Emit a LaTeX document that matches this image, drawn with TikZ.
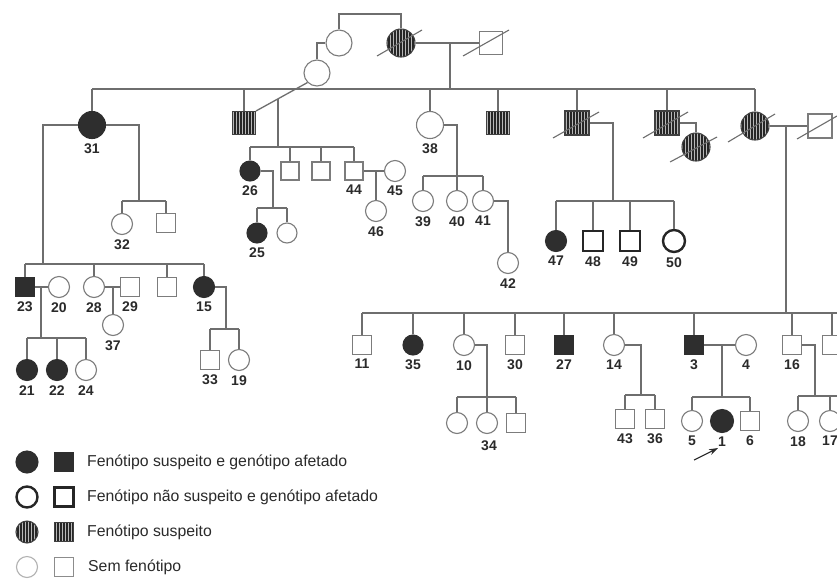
\documentclass[tikz,border=0pt]{standalone}
\usepackage{fontspec}
\setmainfont{Liberation Sans}
\usetikzlibrary{calc,arrows.meta}
\definecolor{lc}{HTML}{6E6E6E}
\definecolor{sc}{HTML}{7C7C7C}
\definecolor{fc}{HTML}{2E2E2E}
\definecolor{tc}{HTML}{2A2A2A}
\definecolor{sbg}{HTML}{B8B8B8}
\tikzset{
  ln/.style={draw=lc,line width=1.3pt},
  fem/.style={circle,draw=sc,line width=1.1pt,fill=white,inner sep=0pt,minimum size=#1},
  mal/.style={rectangle,draw=sc,line width=1.1pt,fill=white,inner sep=0pt,minimum size=#1},
  aff/.style={fill=fc,draw=fc},
  strp/.style={draw=black!75,fill=sbg,path picture={
      \foreach \k in {-15,-12,...,15}{
        \draw[line width=1.4pt,draw=black!85] ([xshift=\k pt]path picture bounding box.north) -- ([xshift=\k pt]path picture bounding box.south);}}},
  thk/.style={draw=black!85,line width=2.4pt},
  lbl/.style={font=\bfseries\fontsize{14}{14}\selectfont,text=tc,inner sep=0pt},
  leg/.style={font=\fontsize{15.8}{18}\selectfont,text=tc,inner sep=0pt,anchor=west},
  dec/.style={draw=lc,line width=1.1pt},
}
\begin{document}
\begin{tikzpicture}[x=1pt,y=-1pt,label distance=4pt]
\fill[white] (0,0) rectangle (837,579);
\clip (0,0) rectangle (837,579);

% ---------- generation I ----------
\node[fem=26pt] (gA) at (339,43) {};
\node[fem=26pt] (gB) at (317,73) {};
\node[fem=28pt,strp] (gS) at (401,43) {};
\node[mal=23pt] (gM) at (491,43) {};
\coordinate (t1) at (339,14);
\draw[ln] (gA.north) -- (t1) -| (gS.north);
\draw[ln] (gB.north) |- (gA.west);
\draw[ln] (gS.east) -- (gM.west);
\coordinate (d0) at (450,43);
\coordinate (s0) at (450,89);
\draw[ln] (d0) -- (s0);
\coordinate (s0L) at (92,89);
\coordinate (s0R) at (755,89);
\draw[ln] (s0L) -- (s0R);

% ---------- generation II ----------
\node[fem=27pt,aff,label={[lbl]below:31}] (c31) at (92,125) {};
\node[mal=23pt,strp] (c2) at (244,123) {};
\node[fem=27pt,label={[lbl]below:38}] (c38) at (430,125) {};
\node[mal=23pt,strp] (c4) at (498,123) {};
\node[mal=24pt,strp] (c5) at (577,123) {};
\node[mal=24pt,strp] (c6) at (667,123) {};
\node[fem=28pt,strp] (sp6) at (696,147) {};
\node[fem=28pt,strp] (c7) at (755,126) {};
\node[mal=24pt] (sp7) at (820,126) {};
\foreach \n in {c31,c2,c38,c4,c5,c6,c7} \draw[ln] (\n.north) -- (\n |- s0);

% c2 x gB
\draw[ln] (c2.north east) -- (gB.south west);
\coordinate (d2) at ($(c2.north east)!0.43!(gB.south west)$);
\coordinate (s2) at (278,147);
\draw[ln] (d2) -- (d2 |- s2);
\node[fem=20pt,aff,label={[lbl]below:26}] (p26) at (250,171) {};
\node[mal=18pt] (pm1) at (290,171) {};
\node[mal=18pt] (pm2) at (321,171) {};
\node[mal=18pt,label={[lbl]below:44}] (p44) at (354,171) {};
\node[fem=21pt,label={[lbl]below:45}] (p45) at (395,171) {};
\node[fem=21pt,label={[lbl]below:46}] (p46) at (376,211) {};
\draw[ln] (p26 |- s2) -- (p44 |- s2);
\foreach \n in {p26,pm1,pm2,p44} \draw[ln] (\n.north) -- (\n |- s2);
\draw[ln] (p44.east) -- (p45.west);
\draw[ln] (p46.north) -- (p46 |- p44);

% 26 children
\node[fem=20pt,aff,label={[lbl]below:25}] (p25) at (257,233) {};
\node[fem=20pt] (p25b) at (287,233) {};
\coordinate (s26) at (273,208);
\draw[ln] (p26.east) -| (s26);
\draw[ln] (p25 |- s26) -- (p25b |- s26);
\foreach \n in {p25,p25b} \draw[ln] (\n.north) -- (\n |- s26);

% 38 children
\node[fem=21pt,label={[lbl]below:39}] (p39) at (423,201) {};
\node[fem=21pt,label={[lbl]below:40}] (p40) at (457,201) {};
\node[fem=21pt,label={[lbl]below:41}] (p41) at (483,201) {};
\node[fem=21pt,label={[lbl]below:42}] (p42) at (508,263) {};
\coordinate (s38) at (457,176);
\draw[ln] (c38.east) -| (s38);
\draw[ln] (p39 |- s38) -- (p41 |- s38);
\foreach \n in {p39,p40,p41} \draw[ln] (\n.north) -- (\n |- s38);
\draw[ln] (p41.east) -| (p42.north);

% c5 children
\node[fem=21pt,aff,label={[lbl]below:47}] (p47) at (556,241) {};
\node[mal=20pt,thk,label={[lbl]below:48}] (p48) at (593,241) {};
\node[mal=20pt,thk,label={[lbl]below:49}] (p49) at (630,241) {};
\node[fem=22pt,thk,label={[lbl]below:50}] (p50) at (674,241) {};
\coordinate (s5) at (613,201);
\draw[ln] (c5.east) -| (s5);
\draw[ln] (p47 |- s5) -- (p50 |- s5);
\foreach \n in {p47,p48,p49,p50} \draw[ln] (\n.north) -- (\n |- s5);

% c6, c7
\draw[ln] (c6.east) -| (sp6.north);
\draw[ln] (c7.east) -- (sp7.west);
\coordinate (d7) at (786,126);
\coordinate (s7) at (786,313);
\draw[ln] (d7) -- (s7);

% ---------- right family ----------
\coordinate (s7L) at (362,313);
\coordinate (s7R) at (845,313);
\draw[ln] (s7L) -- (s7R);
\node[mal=19pt,label={[lbl]below:11}] (q11) at (362,345) {};
\node[fem=20pt,aff,label={[lbl]below:35}] (q35) at (413,345) {};
\node[fem=21pt,label={[lbl]below:10}] (q10) at (464,345) {};
\node[mal=19pt,label={[lbl]below:30}] (q30) at (515,345) {};
\node[mal=19pt,aff,label={[lbl]below:27}] (q27) at (564,345) {};
\node[fem=21pt,label={[lbl]below:14}] (q14) at (614,345) {};
\node[mal=19pt,aff,label={[lbl]below:3}] (q3) at (694,345) {};
\node[fem=21pt,label={[lbl]below:4}] (q4) at (746,345) {};
\node[mal=19pt,label={[lbl]below:16}] (q16) at (792,345) {};
\node[mal=19pt] (qX) at (832,345) {};
\foreach \n in {q11,q35,q10,q30,q27,q14,q3,q16,qX} \draw[ln] (\n.north) -- (\n |- s7);

% 10 children
\node[fem=21pt] (r1) at (457,423) {};
\node[fem=21pt] (r2) at (487,423) {};
\node[mal=19pt] (r3) at (516,423) {};
\node[lbl] (l34) at (489,446) {34};
\coordinate (s10) at (487,397);
\draw[ln] (q10.east) -| (s10);
\draw[ln] (r1 |- s10) -- (r3 |- s10);
\foreach \n in {r1,r2,r3} \draw[ln] (\n.north) -- (\n |- s10);

% 14 children
\node[mal=19pt,label={[lbl]below:43}] (r43) at (625,419) {};
\node[mal=19pt,label={[lbl]below:36}] (r36) at (655,419) {};
\coordinate (s14) at (641,395);
\draw[ln] (q14.east) -| (s14);
\draw[ln] (r43 |- s14) -- (r36 |- s14);
\foreach \n in {r43,r36} \draw[ln] (\n.north) -- (\n |- s14);

% 3 x 4 children
\draw[ln] (q3.east) -- (q4.west);
\coordinate (d3) at (722,345);
\coordinate (s3) at (722,397);
\draw[ln] (d3) -- (s3);
\node[fem=21pt,label={[lbl]below:5}] (r5) at (692,421) {};
\node[fem=23pt,aff,label={[lbl]below:1}] (r1p) at (722,421) {};
\node[mal=19pt,label={[lbl]below:6}] (r6) at (750,421) {};
\draw[ln] (r5 |- s3) -- (r6 |- s3);
\foreach \n in {r5,r6} \draw[ln] (\n.north) -- (\n |- s3);
\coordinate (ar0) at (694,460);
\coordinate (ar1) at (718,448);
\draw[-{Stealth[length=9pt,width=6pt]},line width=1.1pt,draw=tc] (ar0) -- (ar1);

% 16 children
\node[fem=21pt,label={[lbl]below:18}] (r18) at (798,421) {};
\node[fem=21pt,label={[lbl]below:17}] (r17) at (830,421) {};
\coordinate (s16) at (815,396);
\coordinate (s16R) at (845,396);
\draw[ln] (q16.east) -| (s16);
\draw[ln] (r18 |- s16) -- (s16R);
\foreach \n in {r18,r17} \draw[ln] (\n.north) -- (\n |- s16);

% ---------- left family ----------
\coordinate (s31) at (43,264);
\coordinate (s32) at (139,201);
\draw[ln] (c31.west) -| (s31);
\draw[ln] (c31.east) -| (s32);
\node[fem=21pt,label={[lbl]below:32}] (p32) at (122,224) {};
\node[mal=19pt] (p32b) at (166,223) {};
\draw[ln] (p32 |- s32) -- (p32b |- s32);
\foreach \n in {p32,p32b} \draw[ln] (\n.north) -- (\n |- s32);

\node[mal=19pt,aff,label={[lbl]below:23}] (u23) at (25,287) {};
\node[fem=21pt,label={[lbl]below:20}] (u20) at (59,287) {};
\node[fem=21pt,label={[lbl]below:28}] (u28) at (94,287) {};
\node[mal=19pt,label={[lbl]below:29}] (u29) at (130,287) {};
\node[mal=19pt] (u00) at (167,287) {};
\node[fem=21pt,aff,label={[lbl]below:15}] (u15) at (204,287) {};
\draw[ln] (u23 |- s31) -- (u15 |- s31);
\foreach \n in {u23,u28,u00,u15} \draw[ln] (\n.north) -- (\n |- s31);

\draw[ln] (u23.east) -- (u20.west);
\coordinate (d23) at (41,287);
\coordinate (s23) at (41,338);
\draw[ln] (d23) -- (s23);
\node[fem=21pt,aff,label={[lbl]below:21}] (v21) at (27,370) {};
\node[fem=21pt,aff,label={[lbl]below:22}] (v22) at (57,370) {};
\node[fem=21pt,label={[lbl]below:24}] (v24) at (86,370) {};
\draw[ln] (v21 |- s23) -- (v24 |- s23);
\foreach \n in {v21,v22,v24} \draw[ln] (\n.north) -- (\n |- s23);

\draw[ln] (u28.east) -- (u29.west);
\node[fem=21pt,label={[lbl]below:37}] (v37) at (113,325) {};
\draw[ln] (v37.north) -- (v37 |- u28);

\coordinate (s15) at (226,329);
\draw[ln] (u15.east) -| (s15);
\node[mal=19pt,label={[lbl]below:33}] (v33) at (210,360) {};
\node[fem=21pt,label={[lbl]below:19}] (v19) at (239,360) {};
\draw[ln] (v33 |- s15) -- (v19 |- s15);
\foreach \n in {v33,v19} \draw[ln] (\n.north) -- (\n |- s15);

% ---------- deceased slashes ----------
\draw[dec] ($(gS)+(-24,13)$) -- ($(gS)+(21,-13)$);
\draw[dec] ($(gM)+(-28,13)$) -- ($(gM)+(18,-13)$);
\draw[dec] ($(c5)+(-24,15)$) -- ($(c5)+(22,-11)$);
\draw[dec] ($(c6)+(-24,15)$) -- ($(c6)+(21,-11)$);
\draw[dec] ($(sp6)+(-26,15)$) -- ($(sp6)+(21,-10)$);
\draw[dec] ($(c7)+(-27,16)$) -- ($(c7)+(20,-12)$);
\draw[dec] ($(sp7)+(-23,13)$) -- ($(sp7)+(17,-10)$);

% ---------- legend ----------
\node[fem=22pt,aff] (k1a) at (27,462) {};
\node[mal=18pt,aff] (k1b) at (64,462) {};
\node[leg] (k1t) at (87,462) {Fenótipo suspeito e genótipo afetado};
\node[fem=21pt,thk] (k2a) at (27,497) {};
\node[mal=19pt,thk] (k2b) at (64,497) {};
\node[leg] (k2t) at (87,497) {Fenótipo não suspeito e genótipo afetado};
\node[fem=22pt,strp] (k3a) at (27,532) {};
\node[mal=19pt,strp] (k3b) at (64,532) {};
\node[leg] (k3t) at (87,532) {Fenótipo suspeito};
\node[fem=21pt,draw=black!30] (k4a) at (27,567) {};
\node[mal=19pt,draw=black!45] (k4b) at (64,567) {};
\node[leg] (k4t) at (88,567) {Sem fenótipo};
\end{tikzpicture}
\end{document}
